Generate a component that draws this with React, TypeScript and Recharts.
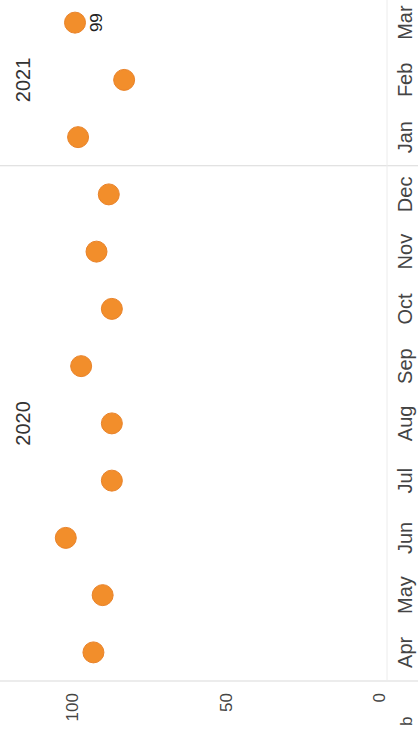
import React from 'react'
import {
  ComposedChart,
  Line,
  XAxis,
  YAxis,
  ReferenceLine,
  LabelList,
} from 'recharts'

const months = ['Apr', 'May', 'Jun', 'Jul', 'Aug', 'Sep', 'Oct', 'Nov', 'Dec', 'Jan', 'Feb', 'Mar']
const years = ['2020', '2020', '2020', '2020', '2020', '2020', '2020', '2020', '2020', '2021', '2021', '2021']
const values = [93, 90, 102, 87, 87, 97, 87, 92, 88, 98, 83, 99]
const valueTicks = [0, 50, 100]

const data = months.map((month, i) => ({
  month,
  year: years[i],
  value: values[i],
  // only the latest month carries a label
  label: i === months.length - 1 ? values[i] : undefined,
}))

const FONT = '"Liberation Sans", Arial, sans-serif'
const ORANGE = '#F28E2B'
const GRID = '#d9d9d9'

// year header: one label centred over each year's months
function YearTick(props: any) {
  const { x, y, index } = props
  const yr = years[index]
  const mid = Math.floor((years.indexOf(yr) + years.lastIndexOf(yr)) / 2)
  if (index !== mid) return <g />
  return (
    <text x={x} y={y} dy="0.35em" textAnchor="middle" fill="#333" fontSize={20} fontFamily={FONT}>
      {yr}
    </text>
  )
}

function Chart() {
  return (
    <ComposedChart width={738} height={418} data={data} margin={{ top: 0, right: 0, bottom: 0, left: 0 }}>
      <XAxis
        xAxisId="year"
        dataKey="month"
        scale="band"
        orientation="top"
        height={40}
        axisLine={false}
        tickLine={false}
        tickSize={0}
        tickMargin={17}
        interval={0}
        tick={<YearTick />}
      />
      <XAxis
        dataKey="month"
        scale="band"
        height={31}
        axisLine={{ stroke: '#ececec' }}
        tickLine={false}
        tickSize={0}
        tickMargin={11}
        interval={0}
        tick={{ fill: '#444', fontSize: 20, fontFamily: FONT }}
      />
      <YAxis
        type="number"
        width={51}
        domain={[-2.6, 110.4]}
        ticks={valueTicks}
        axisLine={false}
        tickLine={false}
        tickSize={0}
        tickMargin={12}
        tick={{ fill: '#444', fontSize: 17, fontFamily: FONT }}
      />
      <ReferenceLine
        segment={[{ x: 'Apr', y: 124 }, { x: 'Apr', y: -13 }]}
        position="start"
        ifOverflow="visible"
        stroke={GRID}
      />
      <ReferenceLine
        segment={[{ x: 'Jan', y: 124 }, { x: 'Jan', y: -13 }]}
        position="start"
        ifOverflow="visible"
        stroke={GRID}
      />
      <Line
        dataKey="value"
        stroke="none"
        isAnimationActive={false}
        activeDot={false}
        dot={{ r: 10.5, fill: ORANGE, stroke: '#e9832a', strokeWidth: 1, fillOpacity: 1 }}
      >
        <LabelList dataKey="label" position="bottom" offset={15} fill="#222" fontSize={17} fontFamily={FONT} />
      </Line>
    </ComposedChart>
  )
}

export default function App() {
  return (
    <div style={{ position: 'absolute', left: 0, top: 0, width: 418, height: 732, overflow: 'hidden', background: '#fff' }}>
      <div
        style={{
          position: 'absolute',
          left: 0,
          top: 0,
          width: 738,
          height: 418,
          transformOrigin: '0 0',
          transform: 'translateY(732px) rotate(-90deg)',
        }}
      >
        <Chart />
        <div style={{ position: 'absolute', left: 6, top: 397, fontFamily: FONT, fontSize: 17, lineHeight: '20px', color: '#444' }}>b</div>
      </div>
    </div>
  )
}
